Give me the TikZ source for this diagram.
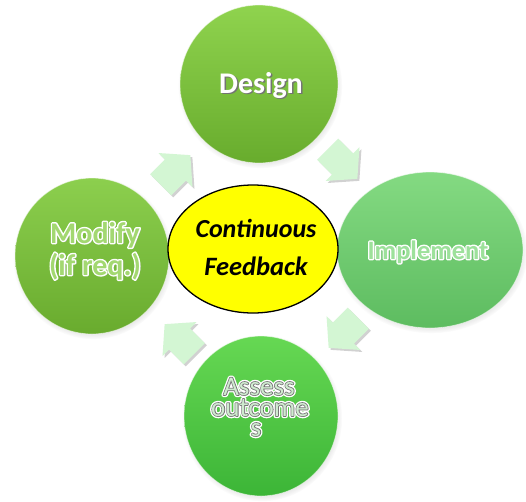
\documentclass[tikz,border=0pt]{standalone}
\usepackage{fontspec}
\setmainfont{Carlito}
\usetikzlibrary{shapes.geometric,shadows,calc,fadings}
\definecolor{designA}{HTML}{8FD34E}
\definecolor{designB}{HTML}{68AC2D}
\definecolor{modifyA}{HTML}{8CCF4E}
\definecolor{modifyB}{HTML}{69AB2E}
\definecolor{implA}{HTML}{84DA82}
\definecolor{implB}{HTML}{5DBC60}
\definecolor{assessA}{HTML}{66D853}
\definecolor{assessB}{HTML}{3CB537}
\definecolor{arrowfill}{HTML}{D3F6D3}
\definecolor{centerfill}{HTML}{FFFF00}
% stroked copy of a text (PDF text rendering mode 1), #1 colour, #2 line width (bp), #3 text
\newcommand\strk[3]{\rlap{\color{#1}\special{pdf:literal direct 1 Tr #2 w 1 j}#3\special{pdf:literal direct 0 Tr}}}
\newcommand\dropt[3]{\rlap{\hspace*{#2}\raisebox{-#2}{\color{#1}#3}}}
\newcommand\shadowed[1]{\leavevmode\dropt{black!55}{1.4pt}{#1}{\color{white}#1}}
\newcommand\outlined[2]{\leavevmode\dropt{black!35}{1.6pt}{#2}\strk{white}{2.8}{#2}{\color{#1}#2}}
\newcommand\grayoutl[1]{\leavevmode\strk{white}{4.2}{#1}\strk{black!55}{1.5}{#1}{\color{green!12!white!92!black}#1}}
\begin{document}
\begin{tikzpicture}[x=1pt,y=-1pt,
  bubble/.style={inner sep=0pt, draw=white, draw opacity=0.55, line width=0.8pt,
    circular drop shadow={shadow xshift=1pt,shadow yshift=-2pt,shadow scale=1.04,opacity=0.35}},
  lab/.style={inner sep=0pt, anchor=base},
  arrowshape/.style={fill=arrowfill, draw=none,
    drop shadow={shadow xshift=2pt,shadow yshift=-2pt,opacity=0.18,fill=black}}
]
\tikzset{pics/cyclearrow/.style={code={
  \path[arrowshape] (-21,-15) -- (0,-15) -- (0,-24) -- (21,0) -- (0,24) -- (0,15) -- (-21,15) -- cycle;}}}
\useasboundingbox (0,0) rectangle (526,501);
\fill[white] (0,0) rectangle (526,501);

% circles
\node[bubble, circle, minimum size=158pt, top color=designA, bottom color=designB] (design) at (259,84) {};
\node[bubble, ellipse, minimum width=154pt, minimum height=156pt, top color=modifyA, bottom color=modifyB] (modify) at (92,256) {};
\node[bubble, ellipse, minimum width=186pt, minimum height=156pt, top color=implA, bottom color=implB] (implement) at (430,250) {};
\node[bubble, ellipse, minimum width=154pt, minimum height=160pt, top color=assessA, bottom color=assessB] (assess) at (261,416) {};

% centre
\node[ellipse, draw=black, line width=1.3pt, fill=centerfill, minimum width=170pt, minimum height=128pt, inner sep=0pt] (centre) at (253,249) {};

% arrows
\pic[rotate=45] at ($(modify)!0.5!(design)$) {cyclearrow};
\pic[rotate=-45] at ($(design)!0.5!(implement)+(-2,-3)$) {cyclearrow};
\pic[rotate=-135] at ($(implement)!0.5!(assess)+(-2,0)$) {cyclearrow};
\pic[rotate=135] at ($(assess)!0.5!(modify)+(3,3)$) {cyclearrow};

% labels
\node[lab, font=\fontsize{30}{32}\selectfont\bfseries] (designlab) at (261,93) {\shadowed{Design}};
\node[lab, font=\fontsize{30}{32}\selectfont\bfseries] (modifylab1) at (95,243) {\outlined{modifyA!80!white}{Modify}};
\node[lab, font=\fontsize{30}{32}\selectfont\bfseries] (modifylab2) at (95,275) {\outlined{modifyA!80!white}{(if req.)}};
\node[lab, font=\fontsize{26.5}{28}\selectfont\bfseries] (implementlab) at (428,259) {\outlined{implA!80!white}{Implement}};
\node[lab, font=\fontsize{27}{28}\selectfont] (assesslab1) at (259,395) {\grayoutl{Assess}};
\node[lab, font=\fontsize{27}{28}\selectfont] (assesslab2) at (260,416) {\grayoutl{outcome}};
\node[lab, font=\fontsize{27}{28}\selectfont] (assesslab3) at (256,436) {\grayoutl{s}};
\node[lab, font=\fontsize{26}{28}\selectfont\bfseries\itshape] (centrelab1) at (256,237) {Continuous};
\node[lab, font=\fontsize{26.5}{28}\selectfont\bfseries\itshape] (centrelab2) at (256,275) {Feedback};
\end{tikzpicture}
\end{document}
